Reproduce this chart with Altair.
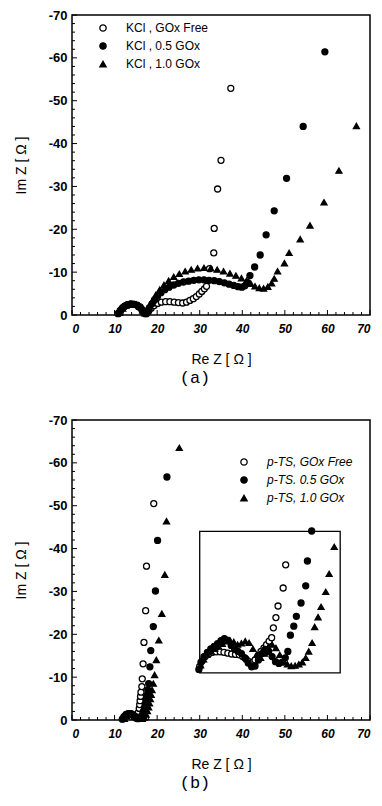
import altair as alt
import pandas as pd

# ---------------- data ----------------
series_a = ["KCl , GOx Free", "KCl , 0.5 GOx", "KCl , 1.0 GOx"]
series_b = ["p-TS, GOx Free", "p-TS. 0.5 GOx", "p-TS, 1.0 GOx"]
shapes = ["circle", "circle", "triangle-up"]
fills = ["white", "black", "black"]
strokes = ["black", "black", "black"]

x_major = [0, 10, 20, 30, 40, 50, 60, 70]
x_minor = [2, 4, 6, 8, 12, 14, 16, 18, 22, 24, 26, 28, 32, 34, 36, 38,
           42, 44, 46, 48, 52, 54, 56, 58, 62, 64, 66, 68]
y_major = [-70, -60, -50, -40, -30, -20, -10, 0]
y_minor = [-68, -66, -64, -62, -58, -56, -54, -52, -48, -46, -44, -42,
           -38, -36, -34, -32, -28, -26, -24, -22, -18, -16, -14, -12,
           -8, -6, -4, -2]

# panel (a) : KCl
a_free_x = [10.8, 11.3, 11.9, 12.5, 13.2, 13.9, 14.6, 15.3, 16.0, 16.6,
            17.1, 17.5, 18.0, 18.6, 19.3, 20.1, 21.0, 22.0, 23.0, 24.0,
            25.0, 26.0, 26.9, 27.7, 28.5, 29.2, 29.9, 30.5, 31.1, 31.6,
            32.3, 33.3, 33.4, 34.2, 35.0, 37.3]
a_free_y = [-0.3, -1.0, -1.7, -2.1, -2.4, -2.5, -2.5, -2.3, -1.9, -1.2,
            -0.5, -0.3, -0.9, -1.6, -2.2, -2.7, -3.0, -3.1, -3.1, -3.0,
            -2.9, -2.8, -3.0, -3.4, -3.8, -4.3, -4.9, -5.5, -6.1, -6.7,
            -10.8, -14.5, -20.2, -29.4, -36.1, -52.9]
a_05_x = [11.0, 11.6, 12.3, 13.0, 13.8, 14.6, 15.4, 16.1, 16.7, 17.2,
          17.7, 18.2, 18.8, 19.4, 20.1, 20.9, 21.8, 22.8, 23.9, 25.0,
          26.2, 27.4, 28.6, 29.8, 31.0, 32.2, 33.4, 34.6, 35.8, 36.9,
          38.0, 39.0, 39.9, 40.6, 41.2, 41.8, 42.9, 44.2, 45.6, 47.5,
          50.4, 54.3, 59.4]
a_05_y = [-0.4, -1.3, -2.0, -2.4, -2.6, -2.5, -2.2, -1.6, -0.9, -0.3,
          -0.8, -1.7, -2.6, -3.5, -4.4, -5.2, -5.9, -6.5, -7.0, -7.4,
          -7.7, -7.9, -8.1, -8.2, -8.2, -8.1, -8.0, -7.8, -7.5, -7.2,
          -6.9, -6.6, -6.5, -6.8, -7.6, -9.2, -11.2, -14.0, -18.7, -24.3,
          -31.9, -44.0, -61.4]
a_10_x = [11.2, 11.9, 12.7, 13.5, 14.3, 15.1, 15.9, 16.6, 17.1,
          17.6, 18.2, 18.9, 19.7, 20.6, 21.6, 22.7, 23.9, 25.2, 26.6,
          28.0, 29.5, 31.0, 32.6, 34.1, 35.6, 37.1, 38.5, 39.8, 41.0,
          42.0, 43.0, 44.0, 45.0, 46.0, 46.9, 47.5, 48.3, 49.9, 51.0,
          53.6, 55.9, 59.2, 62.7, 66.8]
a_10_y = [-0.5, -1.5, -2.2, -2.5, -2.6, -2.4, -1.9, -1.1, -0.4,
          -1.0, -2.2, -3.4, -4.7, -5.9, -7.0, -8.0, -8.9, -9.6, -10.2,
          -10.6, -10.9, -11.0, -10.9, -10.6, -10.2, -9.7, -9.2, -8.6, -8.0,
          -7.3, -6.7, -6.3, -6.2, -6.6, -7.4, -8.5, -10.2, -12.1, -14.5,
          -17.7, -20.9, -26.3, -33.7, -44.1]

# panel (b) : p-TS (main curves)
b_free_x = [11.8, 12.2, 12.7, 13.2, 13.7, 14.2, 14.7, 15.1, 15.4, 15.6,
            15.8, 15.9, 16.0, 16.1, 16.2, 16.4, 16.5, 16.7, 16.9, 17.3,
            17.5, 19.2]
b_free_y = [-0.2, -0.8, -1.3, -1.5, -1.5, -1.2, -0.7, -0.4, -1.0, -1.8,
            -2.7, -3.6, -4.5, -5.5, -6.5, -7.8, -9.6, -13.1, -18.1, -25.5,
            -35.9, -50.5]
b_05_x = [12.0, 12.5, 13.0, 13.5, 14.0, 14.5, 15.0, 15.5, 16.0, 16.4,
          16.7, 17.0, 17.2, 17.4, 17.6, 17.8, 18.0, 18.3, 18.5, 19.1,
          19.6, 20.1, 22.3]
b_05_y = [-0.3, -0.9, -1.3, -1.5, -1.4, -1.1, -0.6, -0.3, -0.5, -1.1,
          -1.9, -2.8, -3.7, -4.7, -5.8, -7.0, -8.5, -12.4, -16.2, -21.8,
          -30.1, -41.9, -56.7]
b_10_x = [12.3, 12.9, 13.5, 14.1, 14.7, 15.3, 15.9, 16.5, 17.0, 17.4,
          17.7, 18.0, 18.2, 18.4, 18.6, 18.8, 19.1, 19.4, 19.8, 20.4,
          21.1, 21.8, 22.2, 25.2]
b_10_y = [-0.3, -0.9, -1.3, -1.4, -1.2, -0.8, -0.4, -0.3, -0.6, -1.3,
          -2.1, -3.0, -3.9, -4.9, -5.9, -7.0, -8.5, -10.5, -14.0, -18.6,
          -24.8, -33.9, -46.4, -63.5]

# panel (b) : magnified inset (drawn inside the box)
inset_box = {"x": [30], "x2": [63], "y": [-44], "y2": [-11]}
b_free_in_x = [30.0, 30.6, 31.3, 32.1, 33.0, 33.9, 34.8, 35.7, 36.6, 37.5,
               38.4, 39.3, 40.1, 40.9, 41.6, 42.3, 43.0, 43.7, 44.4, 45.1,
               45.7, 46.3, 46.9, 47.3, 47.9, 48.4, 49.6, 50.2]
b_free_in_y = [-12.5, -13.8, -14.8, -15.4, -15.8, -15.9, -15.9, -15.8, -15.6, -15.4,
               -15.3, -15.2, -14.8, -14.2, -13.6, -13.4, -14.0, -15.0, -16.0, -16.8,
               -17.6, -18.4, -19.2, -21.5, -23.9, -26.6, -30.8, -36.2]
b_05_in_x = [29.8, 30.3, 31.0, 31.8, 32.6, 33.4, 34.2, 35.0, 35.8, 36.6,
             37.4, 38.2, 39.0, 39.8, 40.6, 41.4, 42.2, 43.0, 43.8, 44.6,
             45.4, 46.2, 47.0, 47.8, 48.6, 49.4, 50.1, 50.7, 51.3, 52.1,
             52.7, 53.8, 54.9, 55.3, 56.3]
b_05_in_y = [-11.8, -13.5, -14.8, -15.8, -16.6, -17.2, -17.8, -18.5, -19.0, -18.6,
             -17.4, -16.5, -16.0, -15.5, -14.5, -13.3, -12.4, -12.6, -14.0, -15.5,
             -16.5, -16.0, -14.8, -13.6, -13.2, -13.5, -14.5, -16.0, -19.8, -21.9,
             -24.2, -27.3, -31.3, -37.1, -44.1]
b_10_in_x = [30.2, 30.9, 31.7, 32.6, 33.5, 34.4, 35.3, 36.2, 37.1, 38.0,
             38.9, 39.8, 40.7, 41.6, 42.5, 43.4, 44.3, 45.2, 46.1, 47.0,
             47.9, 48.8, 49.7, 50.6, 51.5, 52.4, 53.3, 54.1, 54.9, 55.6,
             56.4, 57.0, 57.8, 58.5, 59.6, 60.4, 61.6]
b_10_in_y = [-12.8, -14.2, -15.3, -16.0, -16.6, -17.2, -17.8, -18.4, -18.6, -18.2,
             -17.6, -17.9, -18.4, -18.0, -16.6, -15.2, -14.5, -15.5, -17.0, -17.6,
             -16.8, -15.2, -13.8, -13.0, -12.6, -12.7, -13.0, -13.5, -14.5, -16.0,
             -18.0, -21.7, -24.0, -26.4, -29.9, -34.1, -40.4]


def frame(xs, ys, name):
    return pd.DataFrame({"x": xs, "y": ys, "series": name})


df_a = pd.concat([frame(a_free_x, a_free_y, series_a[0]),
                  frame(a_05_x, a_05_y, series_a[1]),
                  frame(a_10_x, a_10_y, series_a[2])])
df_b = pd.concat([frame(b_free_x, b_free_y, series_b[0]),
                  frame(b_free_in_x, b_free_in_y, series_b[0]),
                  frame(b_05_x, b_05_y, series_b[1]),
                  frame(b_05_in_x, b_05_in_y, series_b[1]),
                  frame(b_10_x, b_10_y, series_b[2]),
                  frame(b_10_in_x, b_10_in_y, series_b[2])])

W, H = 298, 300
FONT = "Liberation Sans"

x_enc = alt.X("x:Q", scale=alt.Scale(domain=[0, 70], nice=False, zero=False),
              axis=alt.Axis(values=x_major, format="d", labelFont=FONT, labelFontSize=12,
                            labelFontWeight="bold", labelFontStyle="italic", labelPadding=8,
                            title="Re Z [ Ω ]", titleFont=FONT, titleFontSize=14,
                            titleFontWeight="normal", titlePadding=18))
y_enc = alt.Y("y:Q", scale=alt.Scale(domain=[-70, 0], nice=False, zero=False, reverse=True),
              axis=alt.Axis(values=y_major,
                            labelExpr="datum.value < 0 ? '-' + abs(datum.value) : '0'",
                            labelFont=FONT, labelFontSize=13, labelFontWeight="bold",
                            labelPadding=5, title="Im Z [ Ω ]", titleFont=FONT,
                            titleFontSize=14, titleFontWeight="normal", titlePadding=20))


def panel(df, series, lx, ly, lstyle, label, inset=None):
    leg = alt.Legend(orient="none", legendX=lx, legendY=ly, title=None, labelFont=FONT,
                     labelFontSize=12, labelFontStyle=lstyle, labelColor="black",
                     symbolSize=40, symbolStrokeColor="black", symbolStrokeWidth=1.3,
                     labelOffset=17, rowPadding=6, padding=0)
    pts = alt.Chart(df).mark_point(strokeWidth=1.3, size=36,
                                   opacity=1, fillOpacity=1).encode(
        x=x_enc, y=y_enc,
        shape=alt.Shape("series:N", scale=alt.Scale(domain=series, range=shapes), legend=leg),
        fill=alt.Fill("series:N", scale=alt.Scale(domain=series, range=fills), legend=leg),
        stroke=alt.Stroke("series:N", scale=alt.Scale(domain=series, range=strokes), legend=leg),
    )
    xt_maj = alt.Chart(pd.DataFrame({"x": x_major})).mark_rule(color="black", strokeWidth=1).encode(
        x=x_enc, y=alt.value(H), y2=alt.value(H - 5))
    xt_min = alt.Chart(pd.DataFrame({"x": x_minor})).mark_rule(color="black", strokeWidth=1).encode(
        x=x_enc, y=alt.value(H), y2=alt.value(H - 3))
    yt_maj = alt.Chart(pd.DataFrame({"y": y_major})).mark_rule(color="black", strokeWidth=1).encode(
        y=y_enc, x=alt.value(0), x2=alt.value(5))
    yt_min = alt.Chart(pd.DataFrame({"y": y_minor})).mark_rule(color="black", strokeWidth=1).encode(
        y=y_enc, x=alt.value(0), x2=alt.value(3))
    layers = [xt_maj, xt_min, yt_maj, yt_min]
    if inset is not None:
        box = alt.Chart(pd.DataFrame(inset)).mark_rect(fillOpacity=0, stroke="black",
                                                       strokeWidth=1.3).encode(
            x=x_enc, x2="x2:Q", y=y_enc, y2="y2:Q")
        layers.append(box)
    layers.append(pts)
    return alt.layer(*layers).properties(
        width=W, height=H,
        title=alt.TitleParams(label, orient="bottom", font="Liberation Mono", fontSize=17,
                              fontWeight="normal", color="black", offset=4, dx=-26,
                              anchor="middle"))


pa = panel(df_a, series_a, 25, 7, "normal", "(a)")
pb = panel(df_b, series_b, 166, 36, "italic", "(b)", inset=inset_box)

chart = alt.vconcat(pa, pb, spacing=26).resolve_scale(
    shape="independent", fill="independent", stroke="independent").resolve_legend(
    shape="independent", fill="independent", stroke="independent").properties(
    padding={"left": 5, "top": 0, "right": 0, "bottom": 0}).configure_view(
    stroke="black", strokeWidth=1.5).configure_axis(
    grid=False, domain=False, ticks=False, labelColor="black", titleColor="black")

chart.save("out.html", embed_options={"renderer": "svg", "actions": False})
